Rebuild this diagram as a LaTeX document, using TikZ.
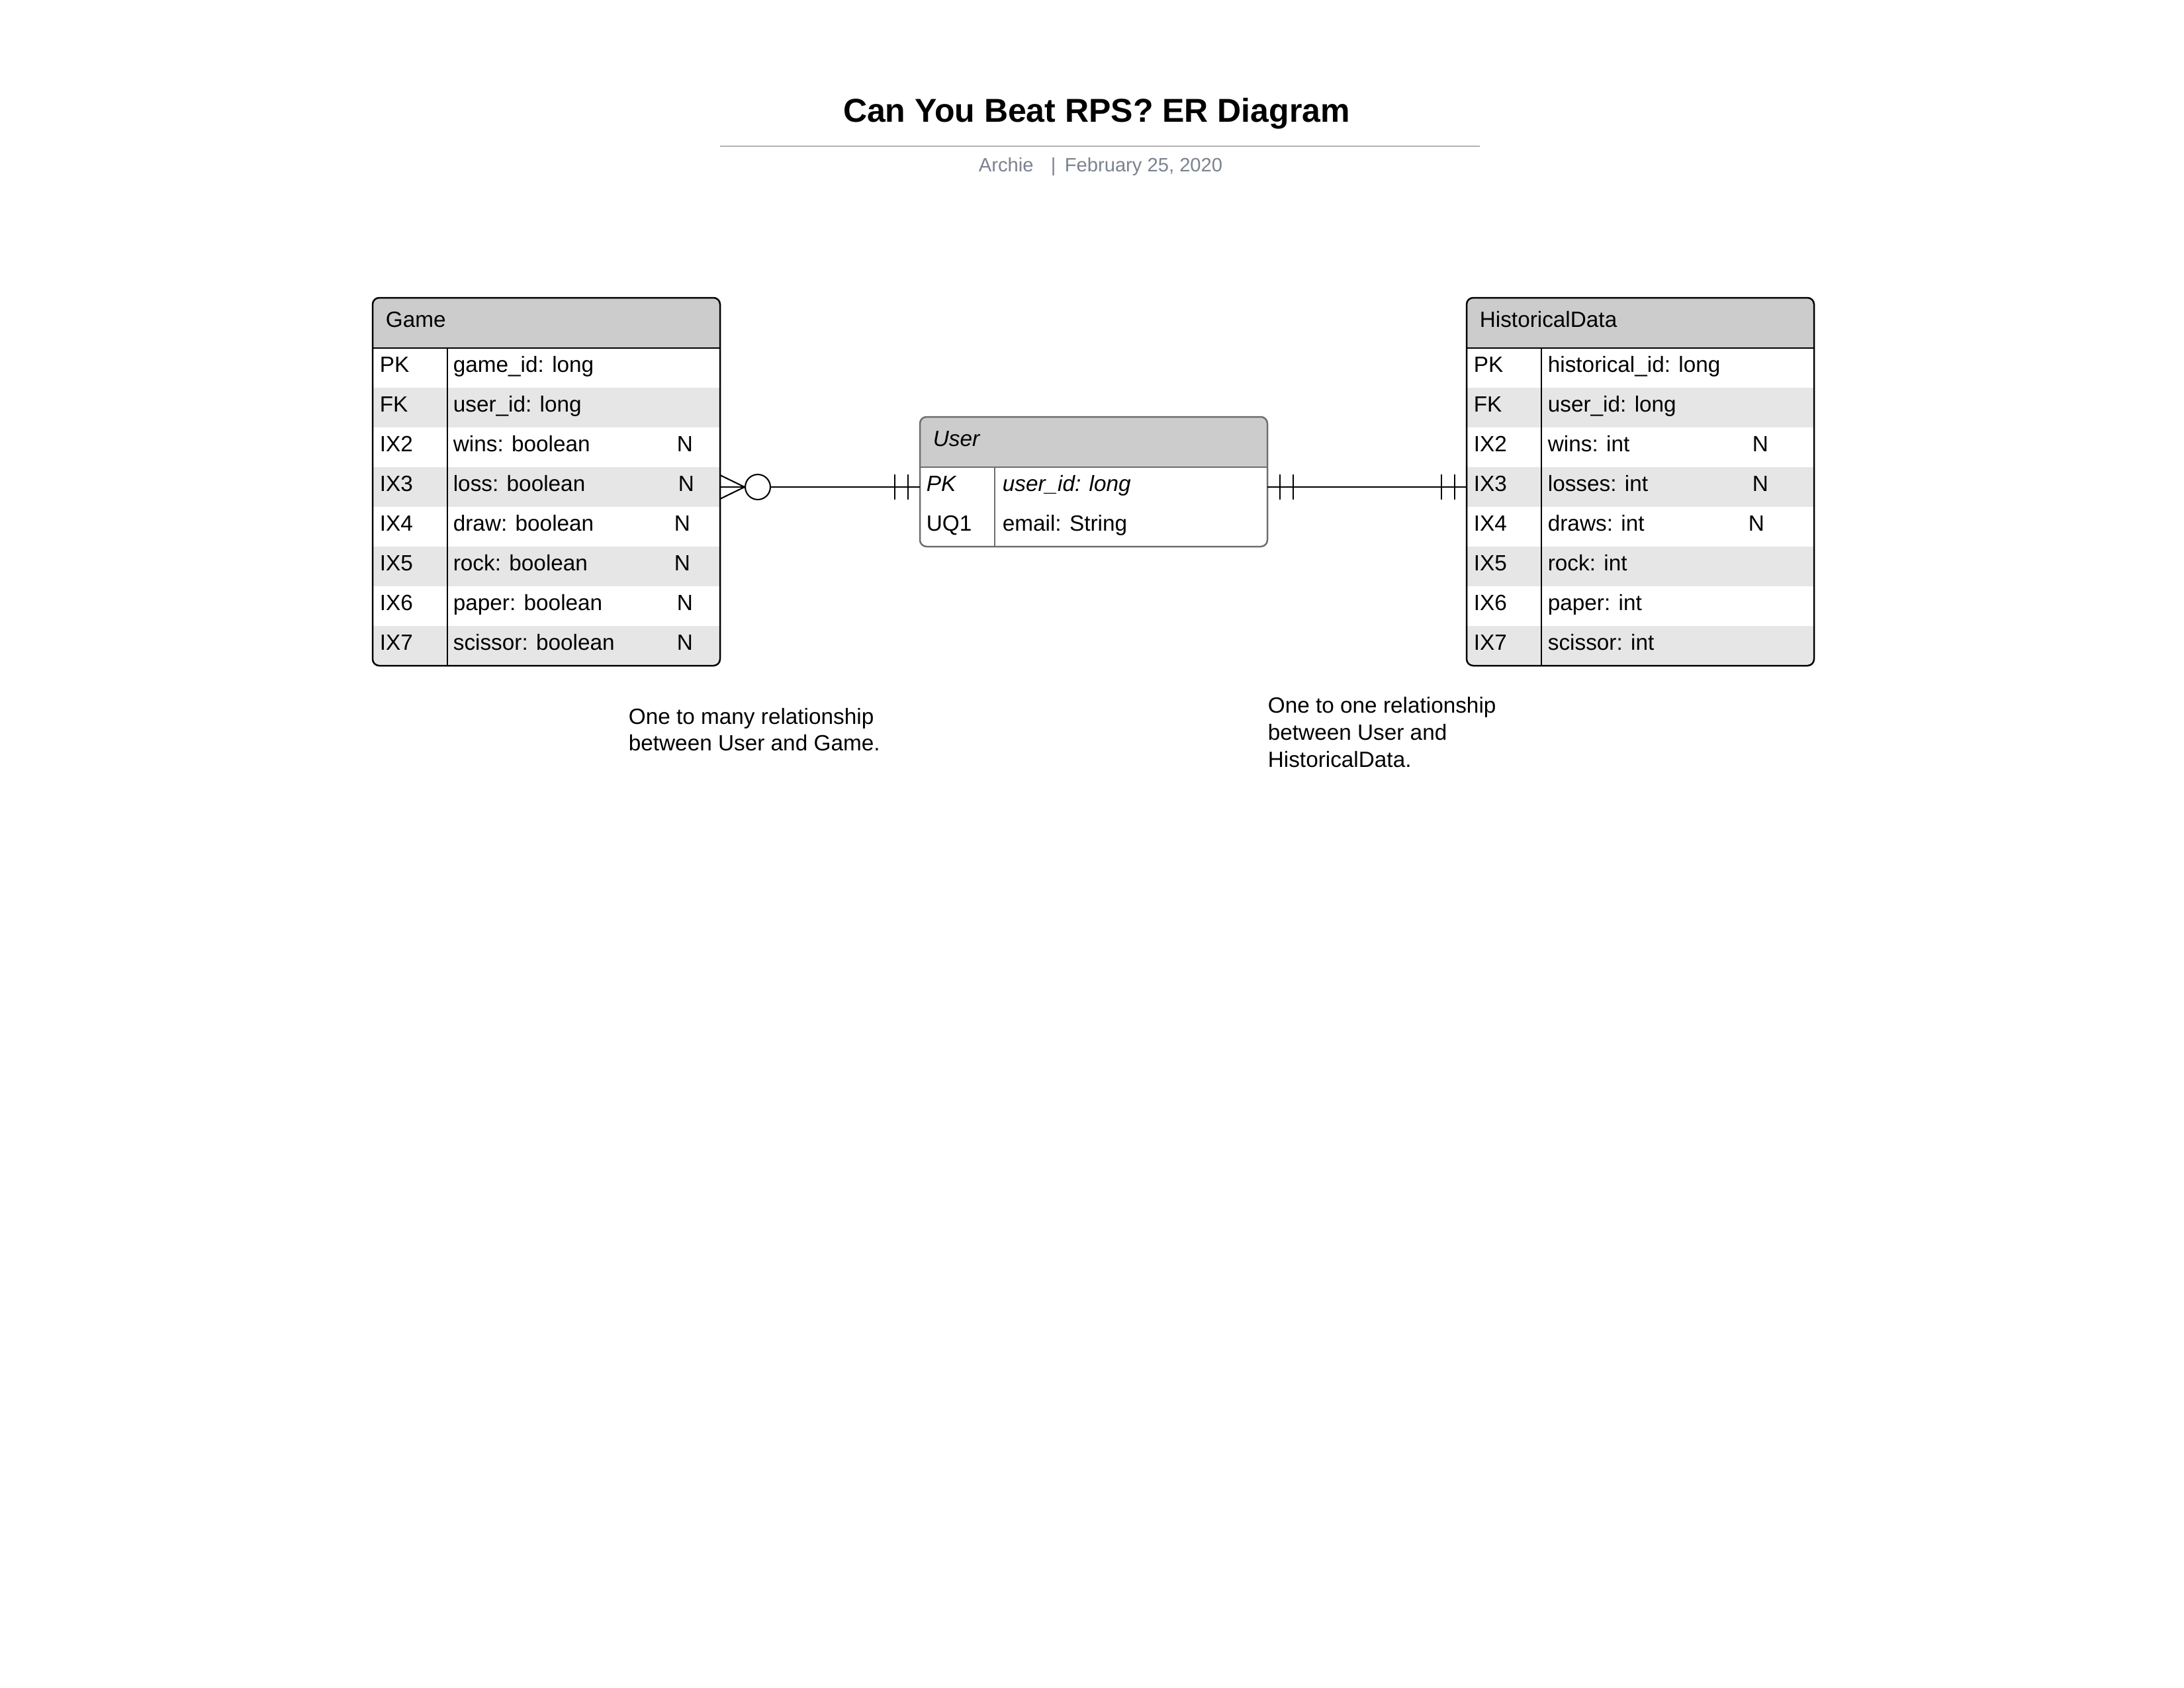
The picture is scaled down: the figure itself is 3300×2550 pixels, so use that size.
\documentclass[tikz,border=0pt]{standalone}
\usepackage{fontspec}
\setmainfont{Liberation Sans}
\usetikzlibrary{calc}
\definecolor{hdrgray}{HTML}{CCCCCC}
\definecolor{rowgray}{HTML}{E6E6E6}
\definecolor{rulegray}{HTML}{B3B3B3}
\definecolor{subgray}{RGB}{123,131,143}
\definecolor{usergray}{HTML}{6E6E6E}
\tikzset{
  conn/.style={line width=0.5pt, draw=black},
  rowcell/.style={rectangle, inner sep=0pt, outer sep=0pt, minimum width=126pt, minimum height=14.4pt, draw=none},
  txt/.style={anchor=base west, inner sep=0pt, font=\fontsize{8}{9.6}\selectfont},
  subtxt/.style={anchor=base west, inner sep=0pt, text=subgray, font=\fontsize{7}{8.4}\selectfont},
}
\newcommand{\erbox}[6]{%
  \begin{scope}
    \clip[rounded corners=2.4pt] (#2,#3) rectangle ++(525,{76+60*#4});
    \fill[hdrgray] (#2,#3) rectangle ++(525,76);
    \foreach \i in {1,...,#4}{%
      \pgfmathtruncatemacro\rp{mod(\i,2)}%
      \ifnum\rp=0 \def\rf{rowgray}\else\def\rf{white}\fi
      \ifnum#5=0 \def\rf{white}\fi
      \node[rowcell, fill=\rf, anchor=north west] (#1\i) at (#2,{#3+76+60*(\i-1)}) {};
    }
  \end{scope}
  \draw[line width=0.6pt, draw=#6, rounded corners=2.4pt] (#2,#3) rectangle ++(525,{76+60*#4});
  \draw[line width=0.6pt, draw=#6] (#2,{#3+76}) -- ++(525,0);
  \draw[line width=0.6pt, draw=#6] ({#2+113},{#3+76}) -- ({#2+113},{#3+76+60*#4});
}
\begin{document}
\begin{tikzpicture}[x=0.24pt,y=-0.24pt]
\useasboundingbox (0,0) rectangle (3300,2550);
\fill[white] (0,0) rectangle (3300,2550);

% title
\node[anchor=base, inner sep=0pt, font=\bfseries\fontsize{12}{14.4}\selectfont] (title) at (1657,184) {Can You Beat RPS? ER Diagram};
\draw[line width=0.7pt, draw=rulegray] (1088,221) -- (2236,221);
\node[subtxt] (author) at (1478,259) {Archie};
\node[subtxt] (sep) at (1587,259) {|};
\node[subtxt] (date) at (1608,259) {February 25, 2020};

% entity boxes
\erbox{g}{563}{450}{8}{1}{black}
\erbox{u}{1390}{630}{2}{0}{usergray}
\erbox{h}{2216}{450}{8}{1}{black}

% Game texts
\node[txt] (gT) at (582,494) {Game};
\foreach \k/\f [count=\i] in {PK/game\_id: long, FK/user\_id: long, IX2/wins: boolean, IX3/loss: boolean, IX4/draw: boolean, IX5/rock: boolean, IX6/paper: boolean, IX7/scissor: boolean}{
  \node[txt] (gk\i) at (573,{562+60*(\i-1)}) {\k};
  \node[txt] (gf\i) at (684,{562+60*(\i-1)}) {\f};
}
\foreach \r/\x in {3/1022,4/1024,5/1018,6/1018,7/1022,8/1022}{
  \node[txt] (gn\r) at (\x,{562+60*(\r-1)}) {N};
}

% User texts
\node[txt, font=\fontsize{8}{9.6}\itshape\selectfont] (uT) at (1409,674) {User};
\node[txt, font=\fontsize{8}{9.6}\itshape\selectfont] (uk1) at (1399,742) {PK};
\node[txt, font=\fontsize{8}{9.6}\itshape\selectfont] (uf1) at (1514,742) {user\_id: long};
\node[txt] (uk2) at (1399,802) {UQ1};
\node[txt] (uf2) at (1514,802) {email: String};

% HistoricalData texts
\node[txt] (hT) at (2235,494) {HistoricalData};
\foreach \k/\f [count=\i] in {PK/historical\_id: long, FK/user\_id: long, IX2/wins: int, IX3/losses: int, IX4/draws: int, IX5/rock: int, IX6/paper: int, IX7/scissor: int}{
  \node[txt] (hk\i) at (2226,{562+60*(\i-1)}) {\k};
  \node[txt] (hf\i) at (2338,{562+60*(\i-1)}) {\f};
}
\foreach \r/\x in {3/2647,4/2647,5/2641}{
  \node[txt] (hn\r) at (\x,{562+60*(\r-1)}) {N};
}

% connector Game -- User (zero or many : one and only one)
\draw[conn] (g4.east) -- (u1.west);
\node[circle, draw=black, line width=0.5pt, fill=white, minimum size=9.1pt, inner sep=0pt] (zc) at ($(g4.east)+(57,0)$) {};
\draw[conn] ($(g4.east)+(0,-18)$) -- (zc.west) -- ($(g4.east)+(0,18)$);
\draw[conn] ($(u1.west)+(-18,-19)$) -- ++(0,38);
\draw[conn] ($(u1.west)+(-38,-19)$) -- ++(0,38);

% connector User -- HistoricalData (one and only one : one and only one)
\draw[conn] (u1.east) -- (h4.west);
\draw[conn] ($(u1.east)+(19,-19)$) -- ++(0,38);
\draw[conn] ($(u1.east)+(39,-19)$) -- ++(0,38);
\draw[conn] ($(h4.west)+(-18,-19)$) -- ++(0,38);
\draw[conn] ($(h4.west)+(-38,-19)$) -- ++(0,38);

% notes
\node[txt] (n1a) at (949,1094) {One to many relationship};
\node[txt] (n1b) at (949,1134) {between User and Game.};
\node[txt] (n2a) at (1915,1077) {One to one relationship};
\node[txt] (n2b) at (1915,1118) {between User and};
\node[txt] (n2c) at (1915,1159) {HistoricalData.};
\end{tikzpicture}
\end{document}
